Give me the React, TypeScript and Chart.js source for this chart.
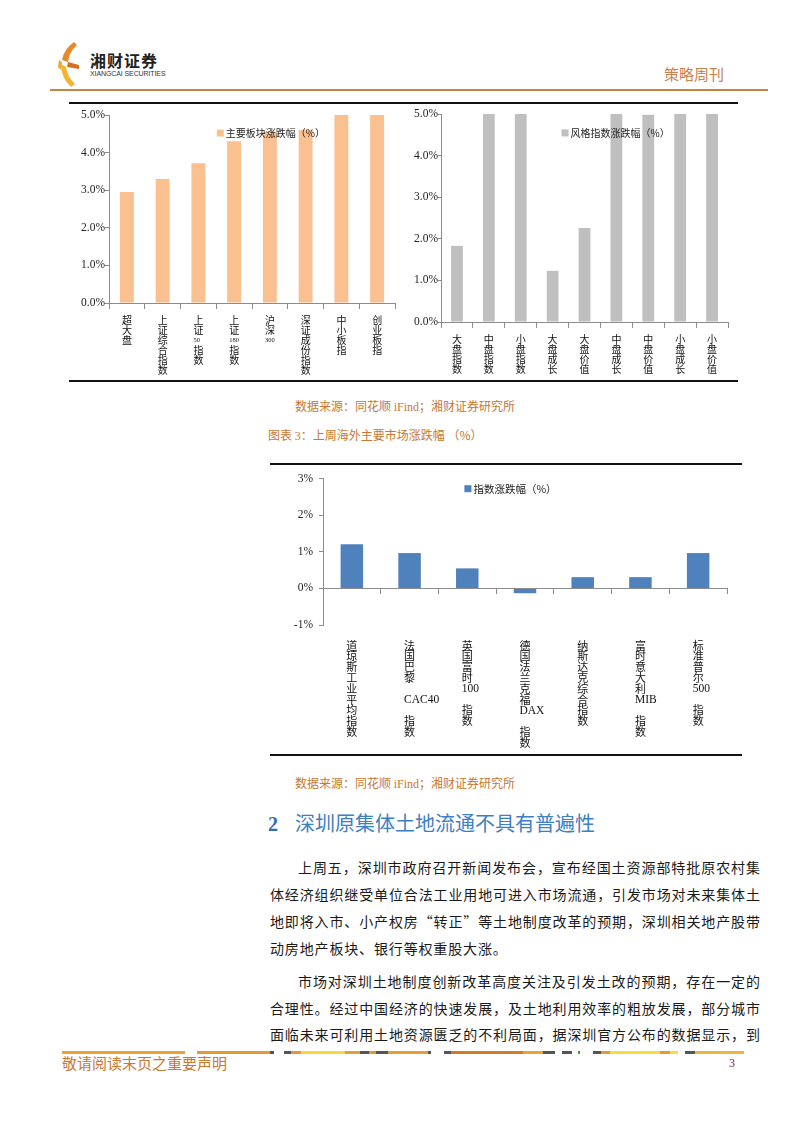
import React, { useEffect, useRef } from "react";
import { Chart, registerables } from "chart.js";
Chart.register(...registerables);

// ---------------- data ----------------
const sectorLabels: string[][] = [
  ["超", "大", "盘"],
  ["上", "证", "综", "合", "指", "数"],
  ["上", "证", "50", "指", "数"],
  ["上", "证", "180", "指", "数"],
  ["沪", "深", "300"],
  ["深", "证", "成", "份", "指", "数"],
  ["中", "小", "板", "指"],
  ["创", "业", "板", "指"],
];
const sectorValues = [2.95, 3.3, 3.72, 4.3, 4.55, 4.6, 5.0, 5.0];
const sectorSeriesName = "主要板块涨跌幅（%）";

const styleLabels: string[][] = [
  ["大", "盘", "指", "数"],
  ["中", "盘", "指", "数"],
  ["小", "盘", "指", "数"],
  ["大", "盘", "成", "长"],
  ["大", "盘", "价", "值"],
  ["中", "盘", "成", "长"],
  ["中", "盘", "价", "值"],
  ["小", "盘", "成", "长"],
  ["小", "盘", "价", "值"],
];
const styleValues = [1.83, 5.0, 5.0, 1.23, 2.26, 5.0, 4.98, 5.0, 5.0];
const styleSeriesName = "风格指数涨跌幅（%）";

const overseasLabels: string[][] = [
  ["道", "琼", "斯", "工", "业", "平", "均", "指", "数"],
  ["法", "国", "巴", "黎", "", "CAC40", "", "指", "数"],
  ["英", "国", "富", "时", "100", "", "指", "数"],
  ["德", "国", "法", "兰", "克", "福", "DAX", "", "指", "数"],
  ["纳", "斯", "达", "克", "综", "合", "指", "数"],
  ["富", "时", "意", "大", "利", "MIB", "", "指", "数"],
  ["标", "准", "普", "尔", "500", "", "指", "数"],
];
const overseasValues = [1.21, 0.97, 0.55, -0.13, 0.31, 0.31, 0.97];
const overseasSeriesName = "指数涨跌幅（%）";

const topAxisRange = [0, 5];
const bottomAxisRange = [-1, 3];

const sourceNoteA = "数据来源：同花顺 ";
const sourceNoteB = "iFind";
const sourceNoteC = "；湘财证券研究所";
const figureTitleA = "图表 ";
const figureTitleB = "3";
const figureTitleC = "：上周海外主要市场涨跌幅 （%）";
const sectionNumber = "2";
const sectionTitle = "深圳原集体土地流通不具有普遍性";
const paragraph1 = [
  "上周五，深圳市政府召开新闻发布会，宣布经国土资源部特批原农村集",
  "体经济组织继受单位合法工业用地可进入市场流通，引发市场对未来集体土",
  "地即将入市、小产权房“转正”等土地制度改革的预期，深圳相关地产股带",
  "动房地产板块、银行等权重股大涨。",
];
const paragraph2 = [
  "市场对深圳土地制度创新改革高度关注及引发土改的预期，存在一定的",
  "合理性。经过中国经济的快速发展，及土地利用效率的粗放发展，部分城市",
  "面临未来可利用土地资源匮乏的不利局面，据深圳官方公布的数据显示，到",
];

// ---------------- plugins ----------------
const CJK_RE = /[\u3000-\u9fff\uff00-\uffef]/;

const verticalLabelsPlugin = {
  id: "verticalLabels",
  afterDraw(chart: any, _args: any, opts: any) {
    const { ctx } = chart;
    const xScale = chart.scales.x;
    const lines: string[][] = opts.lines || [];
    ctx.save();
    ctx.fillStyle = opts.color || "#111";
    ctx.textBaseline = "top";
    ctx.textAlign = "left";
    lines.forEach((ls, i) => {
      const cx = xScale.getPixelForValue(i);
      let y = chart.chartArea.bottom + opts.offset;
      ls.forEach((line) => {
        if (line) {
          const cjk = CJK_RE.test(line);
          ctx.font = cjk ? opts.cjkFont : opts.latinFont;
          const dy = cjk ? 0 : opts.latinDy || 0;
          ctx.fillText(line, cx - opts.halfWidth, y + dy);
        }
        y += opts.lineHeight;
      });
    });
    ctx.restore();
  },
};

const insideLegendPlugin = {
  id: "insideLegend",
  afterDraw(chart: any, _args: any, opts: any) {
    const { ctx, chartArea } = chart;
    const ds = chart.data.datasets[0];
    const x = chartArea.left + opts.fx * (chartArea.right - chartArea.left);
    const y = chartArea.top + opts.fy * (chartArea.bottom - chartArea.top);
    ctx.save();
    ctx.fillStyle = ds.backgroundColor;
    ctx.fillRect(x, y - 3.5, 7, 7);
    ctx.fillStyle = "#222";
    ctx.font = opts.font;
    ctx.textBaseline = "middle";
    ctx.textAlign = "left";
    ctx.fillText(ds.label, x + 9, y + 0.5);
    ctx.restore();
  },
};

type Cfg = {
  labels: string[][];
  values: number[];
  name: string;
  color: string;
  barPct: number;
  range: number[];
  decimals: number;
  w: number;
  h: number;
  left: number;
  top: number;
  padding: { top: number; right: number; bottom: number; left: number };
  yWidth: number;
  yTick: number;
  yPad: number;
  legend: { fx: number; fy: number; font: string };
  vlabels: any;
};

function BarChart({ cfg }: { cfg: Cfg }) {
  const ref = useRef<HTMLCanvasElement>(null);
  useEffect(() => {
    const axisColor = "#8c8c8c";
    const chart = new Chart(ref.current as HTMLCanvasElement, {
      type: "bar",
      data: {
        labels: cfg.labels.map((l) => l.join("")),
        datasets: [
          {
            label: cfg.name,
            data: cfg.values,
            backgroundColor: cfg.color,
            barPercentage: cfg.barPct,
            categoryPercentage: 1,
          },
        ],
      },
      options: {
        animation: false,
        responsive: false,
        maintainAspectRatio: false,
        layout: { padding: cfg.padding },
        plugins: {
          legend: { display: false },
          tooltip: { enabled: false },
          // @ts-ignore
          insideLegend: cfg.legend,
          // @ts-ignore
          verticalLabels: { lines: cfg.labels, ...cfg.vlabels },
        },
        scales: {
          x: {
            position: { y: 0 } as any,
            ticks: { display: false },
            grid: {
              drawOnChartArea: false,
              drawTicks: true,
              tickLength: 5,
              color: axisColor,
              offset: true,
            },
            border: { color: axisColor, width: 1 },
          },
          y: {
            min: cfg.range[0],
            max: cfg.range[1],
            ticks: {
              stepSize: 1,
              padding: cfg.yPad,
              color: "#222",
              font: { family: "'Liberation Serif', 'Times New Roman', serif", size: 11.5 },
              callback: (v: any) => `${Number(v).toFixed(cfg.decimals)}%`,
            },
            grid: {
              drawOnChartArea: false,
              drawTicks: true,
              tickLength: cfg.yTick,
              color: axisColor,
            },
            border: { color: axisColor, width: 1 },
            afterFit: (s: any) => {
              s.width = cfg.yWidth;
            },
          },
        },
      },
      plugins: [verticalLabelsPlugin, insideLegendPlugin],
    });
    return () => chart.destroy();
  }, []);
  return (
    <canvas
      ref={ref}
      width={cfg.w}
      height={cfg.h}
      style={{ position: "absolute", left: cfg.left, top: cfg.top, width: cfg.w, height: cfg.h }}
    />
  );
}

const CJK_FONT = "'Noto Sans CJK SC', 'Noto Sans', sans-serif";
const SERIF = "'Liberation Serif', 'Times New Roman', serif";

const sectorCfg: Cfg = {
  labels: sectorLabels,
  values: sectorValues,
  name: sectorSeriesName,
  color: "#FAC090",
  barPct: 0.39,
  range: topAxisRange,
  decimals: 1,
  w: 340,
  h: 280,
  left: 60,
  top: 105,
  padding: { top: 10, right: 5, bottom: 82, left: 0 },
  yWidth: 49,
  yTick: 4,
  yPad: 0,
  legend: { fx: 0.377, fy: 0.096, font: `10px ${CJK_FONT}` },
  vlabels: {
    offset: 12,
    lineHeight: 10,
    halfWidth: 5,
    cjkFont: `10px ${CJK_FONT}`,
    latinFont: `6.5px ${SERIF}`,
    latinDy: 2,
    color: "#111",
  },
};

const styleCfg: Cfg = {
  labels: styleLabels,
  values: styleValues,
  name: styleSeriesName,
  color: "#BFBFBF",
  barPct: 0.37,
  range: topAxisRange,
  decimals: 1,
  w: 340,
  h: 280,
  left: 400,
  top: 105,
  padding: { top: 9, right: 12, bottom: 63, left: 0 },
  yWidth: 41,
  yTick: 3,
  yPad: 0,
  legend: { fx: 0.42, fy: 0.091, font: `10px ${CJK_FONT}` },
  vlabels: {
    offset: 12,
    lineHeight: 10,
    halfWidth: 5,
    cjkFont: `10px ${CJK_FONT}`,
    latinFont: `7px ${SERIF}`,
    latinDy: 0,
    color: "#111",
  },
};

const overseasCfg: Cfg = {
  labels: overseasLabels,
  values: overseasValues,
  name: overseasSeriesName,
  color: "#4F81BD",
  barPct: 0.39,
  range: bottomAxisRange,
  decimals: 0,
  w: 470,
  h: 285,
  left: 270,
  top: 466,
  padding: { top: 9, right: 13, bottom: 126, left: 0 },
  yWidth: 53,
  yTick: 4,
  yPad: 6,
  legend: { fx: 0.35, fy: 0.067, font: `10.5px ${CJK_FONT}` },
  vlabels: {
    offset: 15,
    lineHeight: 10.8,
    halfWidth: 5.5,
    cjkFont: `11px ${CJK_FONT}`,
    latinFont: `11.5px ${SERIF}`,
    latinDy: 0,
    color: "#111",
  },
};

const footerSegments: [number, number, string][] = [
  [62, 185, "#E8A33A"],
  [197, 270, "#E39A35"],
  [270, 274, "#555"],
  [284, 291, "#555"],
  [291, 301, "#E39A35"],
  [301, 345, "#F5D83A"],
  [345, 360, "#E3A03A"],
  [360, 369, "#555"],
  [369, 376, "#E39A35"],
  [376, 388, "#555"],
  [388, 428, "#E3A03A"],
  [428, 431, "#555"],
  [444, 451, "#555"],
  [451, 523, "#D27A25"],
  [523, 543, "#E8A33A"],
  [543, 555, "#555"],
  [562, 572, "#555"],
  [578, 580, "#4a9a3a"],
  [593, 601, "#555"],
  [601, 610, "#E39A35"],
  [610, 660, "#F5DF3A"],
  [660, 670, "#E39A35"],
  [670, 678, "#F5DF3A"],
  [685, 695, "#555"],
  [695, 744, "#EDB73A"],
];

function Txt(props: { left: number; top: number; size: number; color: string; children: any; family?: string; weight?: number; style?: any }) {
  return (
    <div
      style={{
        position: "absolute",
        left: props.left,
        top: props.top,
        fontSize: props.size,
        lineHeight: `${props.size + 4}px`,
        color: props.color,
        fontFamily: props.family || CJK_FONT,
        fontWeight: props.weight || 400,
        whiteSpace: "nowrap",
        ...(props.style || {}),
      }}
    >
      {props.children}
    </div>
  );
}

function BodyLine({ text, left, centerY, last }: { text: string; left: number; centerY: number; last?: boolean }) {
  return (
    <div
      style={{
        position: "absolute",
        left,
        top: centerY - 10,
        width: 760 - left,
        height: 20,
        lineHeight: "20px",
        fontSize: 14,
        fontFamily: CJK_FONT,
        color: "#1a1a1a",
        whiteSpace: "nowrap",
        textAlign: last ? "left" : "justify",
        textAlignLast: last ? "left" : "justify",
        letterSpacing: last ? 0.85 : 0,
      } as any}
    >
      {text}
    </div>
  );
}

function SourceNote({ top }: { top: number }) {
  return (
    <Txt left={295} top={top} size={12} color="#C8782F">
      {sourceNoteA}
      <span style={{ fontFamily: SERIF }}>{sourceNoteB}</span>
      {sourceNoteC}
    </Txt>
  );
}

export default function App() {
  const orange = "#C8782F";
  const p1Y = [867, 894, 921, 947.5];
  const p2Y = [981, 1007.5, 1034];
  return (
    <div
      style={{
        position: "absolute",
        left: 0,
        top: 0,
        width: 800,
        height: 1132,
        background: "#fff",
        overflow: "hidden",
      }}
    >
      {/* logo */}
      <svg style={{ position: "absolute", left: 56, top: 40 }} width={26} height={50} viewBox="0 0 26 50">
        <path d="M18 2 Q8 9 6 20 L12 22 Q13 12 21 5 Z" fill="#E8892A" />
        <path d="M12 22 L23 25 L23 29 L11 27 Z" fill="#D4711F" />
        <path d="M5 24 L10 27 Q11 36 19 44 L15 47 Q5 38 5 24 Z" fill="#F3B52F" />
        <path d="M3 20 L6 22 L5 30 L2 27 Z" fill="#F0A52A" />
      </svg>
      <Txt left={90} top={50} size={16} color="#222" weight={700} style={{ letterSpacing: 1 }}>
        湘财证券
      </Txt>
      <Txt
        left={90}
        top={68}
        size={7}
        color="#333"
        family="'Liberation Sans Narrow', 'Liberation Sans', Arial, sans-serif"
        style={{ letterSpacing: -0.1 }}
      >
        XIANGCAI SECURITIES
      </Txt>
      <Txt left={664} top={64} size={15} color="#C8824A">
        策略周刊
      </Txt>
      <div style={{ position: "absolute", left: 50, top: 89, width: 718, height: 2, background: "#C98540" }} />

      {/* top charts frame */}
      <div style={{ position: "absolute", left: 69, top: 102, width: 669, height: 2, background: "#111" }} />
      <div style={{ position: "absolute", left: 69, top: 380, width: 669, height: 2, background: "#111" }} />
      <BarChart cfg={sectorCfg} />
      <BarChart cfg={styleCfg} />

      <SourceNote top={398} />
      <Txt left={268} top={427} size={12} color={orange}>
        {figureTitleA}
        <span style={{ fontFamily: SERIF }}>{figureTitleB}</span>
        {figureTitleC}
      </Txt>

      {/* bottom chart frame */}
      <div style={{ position: "absolute", left: 270, top: 463, width: 472, height: 2, background: "#111" }} />
      <div style={{ position: "absolute", left: 270, top: 754, width: 472, height: 2, background: "#111" }} />
      <BarChart cfg={overseasCfg} />

      <SourceNote top={775} />

      <Txt left={268} top={812} size={20} color="#2E6DB4" family={SERIF} weight={700}>
        {sectionNumber}
      </Txt>
      <Txt left={295} top={811} size={20} color="#3D80C4">
        {sectionTitle}
      </Txt>

      {paragraph1.map((t, i) => (
        <BodyLine key={"a" + i} text={t} left={i === 0 ? 298 : 270} centerY={p1Y[i]} last={i === paragraph1.length - 1} />
      ))}
      {paragraph2.map((t, i) => (
        <BodyLine key={"b" + i} text={t} left={i === 0 ? 298 : 270} centerY={p2Y[i]} />
      ))}

      {/* footer */}
      {footerSegments.map(([a, b, c], i) => (
        <div key={"f" + i} style={{ position: "absolute", left: a, top: 1051, width: b - a, height: 3, background: c }} />
      ))}
      <Txt left={62} top={1053} size={15} color="#C8782F">
        敬请阅读末页之重要声明
      </Txt>
      <Txt left={729} top={1055} size={12} color="#8B1A4A" family={SERIF}>
        3
      </Txt>
    </div>
  );
}
